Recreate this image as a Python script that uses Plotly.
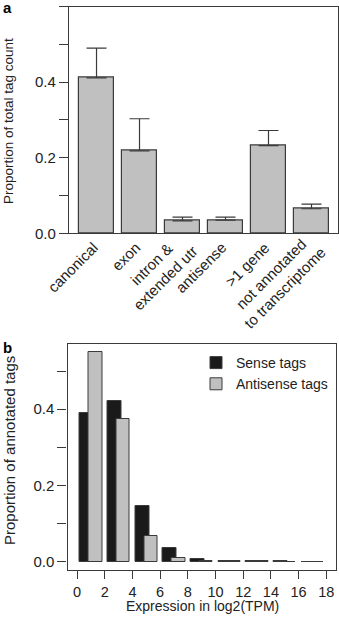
import plotly.graph_objects as go

# ---- data ----
cat_labels = ["canonical", "exon", "intron &<br>extended utr", "antisense", ">1 gene",
              "not annotated<br>to transcriptome"]
prop_values = [0.411, 0.218, 0.033, 0.035, 0.232, 0.065]
prop_upper = [0.490, 0.303, 0.043, 0.043, 0.272, 0.077]

bin_centers = [1, 3, 5, 7, 9, 11, 13, 15, 17]
sense_vals = [0.389, 0.421, 0.145, 0.037, 0.007, 0.002, 0.0006, 0.0004, 0.0003]
antisense_vals = [0.550, 0.373, 0.067, 0.0105, 0.002, 0.0008, 0.0004, 0.0003, 0.0002]
ya_ticks = [0.0, 0.1, 0.2, 0.3, 0.4, 0.5, 0.6]
ya_text = ["0.0", "", "0.2", "", "0.4", "", "0.6"]
yb_ticks = [0.0, 0.1, 0.2, 0.3, 0.4, 0.5]
yb_text = ["0.0", "", "0.2", "", "0.4", ""]
xb_ticks = list(range(0, 19, 2))

W, H = 339, 621
FONT = "Liberation Sans, Arial, Helvetica, sans-serif"
TXT = "#222222"
LINE = "#3a3a3a"
GREY = "#c0c0c0"
DARK = "#1a1a1a"

def px(x):
    return x / W

def py(y):
    return 1 - y / H

fig = go.Figure()

err_plus = [u - v for u, v in zip(prop_upper, prop_values)]
fig.add_trace(go.Bar(
    x=cat_labels, y=prop_values, width=0.81,
    marker=dict(color=GREY, line=dict(color=LINE, width=1.2)),
    error_y=dict(type="data", symmetric=False, array=err_plus,
                 arrayminus=[0] * len(err_plus), width=10, thickness=1.2, color=LINE),
    showlegend=False, xaxis="x", yaxis="y",
))

fig.add_trace(go.Bar(
    x=[c - 0.3 for c in bin_centers], y=sense_vals, width=1.0, name="Sense tags",
    marker=dict(color=DARK, line=dict(color=LINE, width=1.0)),
    xaxis="x2", yaxis="y2",
))
fig.add_trace(go.Bar(
    x=[c + 0.32 for c in bin_centers], y=antisense_vals, width=0.97, name="Antisense tags",
    marker=dict(color=GREY, line=dict(color=LINE, width=1.0)),
    xaxis="x2", yaxis="y2",
))

axis_common = dict(showline=True, linecolor=LINE, linewidth=1.3, mirror=True,
                   showgrid=False, zeroline=False, automargin=False,
                   tickfont=dict(family=FONT, size=15, color=TXT))

# rotated category labels for panel a (centred lines, as in the original)
label_annots = []
for lab in cat_labels:
    two = "<br>" in lab
    label_annots.append(dict(
        text=lab, x=lab, y=0, xref="x", yref="y",
        xanchor="right", yanchor="top", align="center", textangle=-45,
        xshift=21 if two else 7, yshift=7 if two else -3,
        showarrow=False, font=dict(family=FONT, size=15, color=TXT)))

fig.update_layout(
    width=W, height=H,
    margin=dict(l=0, r=0, t=0, b=0, autoexpand=False),
    paper_bgcolor="white", plot_bgcolor="white",
    barmode="overlay", bargap=0,
    font=dict(family=FONT, color=TXT),
    xaxis=dict(domain=[px(69), px(337.5)], anchor="y", type="category",
               range=[-0.64, 5.605], ticks="", showticklabels=False, **axis_common),
    yaxis=dict(domain=[py(233.3), py(6.5)], anchor="x", range=[0, 0.6],
               tickmode="array", tickvals=ya_ticks, ticktext=ya_text,
               ticks="outside", ticklen=9, tickwidth=1.2, tickcolor=LINE, **axis_common),
    xaxis2=dict(domain=[px(67.5), px(336)], anchor="y2", range=[-0.69, 18.7],
                tickmode="array", tickvals=xb_ticks,
                ticks="outside", ticklen=8, tickwidth=1.2, tickcolor=LINE,
                **{**axis_common, "tickfont": dict(family=FONT, size=14.5, color=TXT)}),
    yaxis2=dict(domain=[py(570), py(344)], anchor="x2", range=[-0.022, 0.571],
                tickmode="array", tickvals=yb_ticks, ticktext=yb_text,
                ticks="outside", ticklen=9, tickwidth=1.2, tickcolor=LINE, **axis_common),
    legend=dict(x=px(196), y=py(347), xanchor="left", yanchor="top",
                bgcolor="rgba(0,0,0,0)", font=dict(family=FONT, size=14, color=TXT),
                tracegroupgap=0),
    annotations=label_annots + [
        dict(text="<b>a</b>", x=px(1), y=py(7), xref="paper", yref="paper",
             xanchor="left", yanchor="middle", showarrow=False,
             font=dict(family=FONT, size=15, color="#000")),
        dict(text="<b>b</b>", x=px(1), y=py(347), xref="paper", yref="paper",
             xanchor="left", yanchor="middle", showarrow=False,
             font=dict(family=FONT, size=15, color="#000")),
        dict(text="Proportion of total tag count", x=px(9), y=py(121),
             xref="paper", yref="paper", xanchor="center", yanchor="middle",
             textangle=-90, showarrow=False, font=dict(family=FONT, size=13.5, color=TXT)),
        dict(text="Proportion of annotated tags", x=px(9), y=py(451),
             xref="paper", yref="paper", xanchor="center", yanchor="middle",
             textangle=-90, showarrow=False, font=dict(family=FONT, size=15, color=TXT)),
        dict(text="Expression in log2(TPM)", x=px(202), y=py(606),
             xref="paper", yref="paper", xanchor="center", yanchor="middle",
             showarrow=False, font=dict(family=FONT, size=14, color=TXT)),
    ],
)

fig.write_html("out.html", config={"displayModeBar": False},
               post_script="document.body.style.margin='0';")
